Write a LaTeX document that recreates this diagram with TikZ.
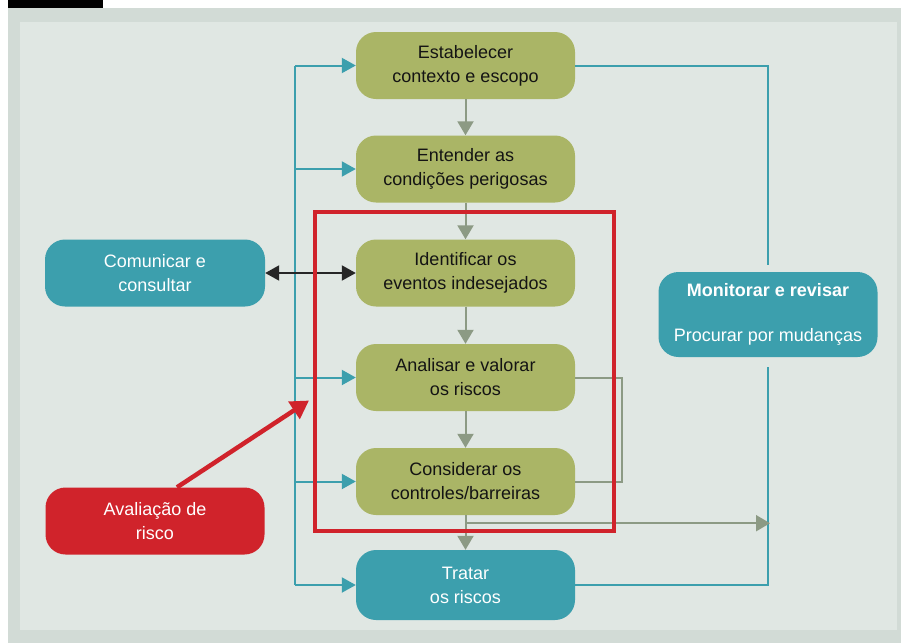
\documentclass[tikz,border=0pt]{standalone}
\usepackage{fontspec}
\setmainfont{Liberation Sans}
\usetikzlibrary{arrows.meta}
\definecolor{oliva}{HTML}{AAB566}
\definecolor{petroleo}{HTML}{3C9FAD}
\definecolor{vermelho}{HTML}{D0232B}
\definecolor{cinza}{HTML}{8C9A84}
\definecolor{fundo}{HTML}{E0E7E3}
\definecolor{borda}{HTML}{D2DBD6}
\tikzset{
    etapa/.style={fill=oliva, rounded corners=20pt, minimum width=219pt, minimum height=67pt,
        align=center, text=black!92, font=\fontsize{18}{24}\selectfont},
    apoio/.style={etapa, fill=petroleo, text=white},
    alerta/.style={etapa, fill=vermelho, text=white},
    fluxo/.style={draw=cinza, line width=2pt, -{Triangle[width=16pt,length=14pt]}},
    canal/.style={draw=petroleo, line width=2pt},
    entrada/.style={canal, -{Triangle[width=15pt,length=14pt]}},
}
\begin{document}
\begin{tikzpicture}[x=1pt,y=-1pt]
    \useasboundingbox (0,0) rectangle (901,643);
    \fill[white] (0,0) rectangle (901,643);
    \fill[borda] (8,8) rectangle (901,643);
    \fill[fundo] (20,22) rectangle (897,630);
    \fill[black] (8,0) rectangle (103,8);

    \node[etapa] (estabelecer) at (465.5,65.5) {Estabelecer\\contexto e escopo};
    \node[etapa] (entender) at (465.5,169) {Entender as\\condições perigosas};
    \node[etapa] (identificar) at (465.5,273) {Identificar os\\eventos indesejados};
    \node[etapa] (analisar) at (465.5,377.5) {Analisar e valorar\\os riscos};
    \node[etapa] (considerar) at (465.5,481.5) {Considerar os\\controles/barreiras};
    \node[apoio, minimum height=70pt] (tratar) at (465.5,585) {Tratar\\os riscos};
    \node[apoio, minimum width=220pt] (comunicar) at (155,273) {Comunicar e\\consultar};
    \node[alerta] (avaliacao) at (155,521) {Avaliação de\\risco};
    \node[apoio, minimum height=85pt] (monitorar) at (768,314.5)
        {\textbf{Monitorar e revisar}\\[21pt]Procurar por mudanças};

    \coordinate (barraE) at (295,0);
    \coordinate (barraD) at (770,0);
    \coordinate (laco) at (622,0);
    \coordinate (saida) at ([yshift=-8pt]considerar.south);

    \draw[canal] (estabelecer.west -| barraE) -- (tratar.west -| barraE);
    \foreach \n in {estabelecer,entender,analisar,considerar,tratar}
        \draw[entrada] (\n.west -| barraE) -- (\n.west);
    \draw[canal, shorten >=7pt] (estabelecer.east) -| (monitorar.north);
    \draw[canal, shorten >=10pt] (tratar.east) -| (monitorar.south);

    \foreach \a/\b in {estabelecer/entender,entender/identificar,identificar/analisar,analisar/considerar,considerar/tratar}
        \draw[fluxo] (\a) -- (\b);
    \draw[draw=cinza, line width=2pt] (analisar.east) -- (analisar.east -| laco) |- (considerar.east);
    \draw[fluxo] (saida) -- (saida -| barraD);

    \draw[black!85, line width=2pt, {Triangle[width=15pt,length=14pt]}-{Triangle[width=15pt,length=14pt]}]
        (comunicar) -- (identificar);

    \node[draw=vermelho, line width=4pt, minimum width=299pt, minimum height=319pt] (quadro) at (464.5,371.5) {};
    \draw[vermelho, line width=4.5pt, -{Triangle[width=20pt,length=18pt]}]
        ([xshift=22pt]avaliacao.north) -- ([xshift=-4pt,yshift=-29pt]quadro.west);
\end{tikzpicture}
\end{document}
